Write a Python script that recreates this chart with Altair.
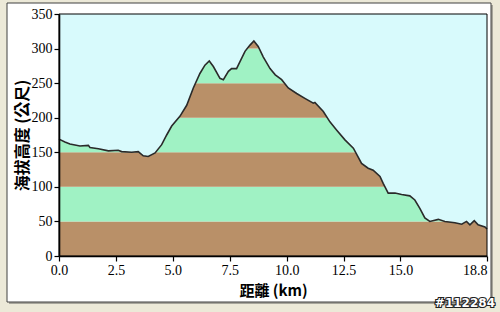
import altair as alt
import pandas as pd

km = [0.0, 0.26, 0.48, 0.92, 1.29, 1.36, 1.73, 2.17, 2.6, 2.75, 3.19, 3.48, 3.7, 3.92,
      4.22, 4.51, 4.73, 4.95, 5.31, 5.61, 5.9, 6.19, 6.41, 6.6, 6.78, 7.07, 7.22, 7.44,
      7.58, 7.8, 7.95, 8.17, 8.39, 8.56, 8.75, 8.97, 9.27, 9.5, 9.78, 10.07, 10.44, 10.8,
      11.17, 11.24, 11.61, 11.9, 12.2, 12.56, 12.93, 13.29, 13.58, 13.8, 14.1, 14.24,
      14.46, 14.76, 15.05, 15.41, 15.63, 15.85, 16.07, 16.29, 16.66, 16.95, 17.39, 17.69,
      17.9, 18.05, 18.24, 18.41, 18.71, 18.8]
elev = [169, 165, 162, 159, 160, 157, 155, 152, 153, 151, 150, 151, 145, 144,
        149, 161, 175, 188, 202, 218, 243, 264, 276, 282, 274, 257, 255, 267,
        271, 271, 281, 296, 305, 311, 303, 288, 271, 262, 255, 243, 235, 228,
        221, 222, 209, 194, 182, 168, 156, 134, 127, 124, 115, 105,
        91, 91, 89, 87, 81, 69, 55, 50, 53, 50, 48, 46,
        50, 45, 51, 45, 42, 39]

band_lo = [0, 50, 100, 150, 200, 250, 300]
band_hi = [50, 100, 150, 200, 250, 300, 350]
band_fill = ["#B99068", "#A0F2C4", "#B99068", "#A0F2C4", "#B99068", "#A0F2C4", "#B99068"]

x_ticks = [0, 2.5, 5, 7.5, 10, 12.5, 15, 18.8]
y_ticks = [0, 50, 100, 150, 200, 250, 300, 350]

SKY = "#D8FAFC"
BEIGE = "#ECE9D8"
W, H = 428, 242

profile = pd.DataFrame({"km": km, "elev": elev})
bands = pd.DataFrame({"lo": band_lo, "hi": band_hi, "fill": band_fill})
one = alt.Data(values=[{"k": 0}])

xs = alt.Scale(domain=[0, 18.8], nice=False, zero=False)
ys = alt.Scale(domain=[0, 350], nice=False)

axis_common = dict(
    grid=False, domainColor="black", domainWidth=1.6, tickColor="black",
    tickSize=5, tickWidth=1.2, labelFont="Liberation Serif", labelFontSize=14,
    labelColor="black", labelPadding=2, titleFont="Noto Sans CJK TC",
    titleFontWeight="bold", titleColor="black", zindex=2,
)
xaxis = alt.Axis(values=x_ticks, format=".1f", title="距離 (km)", titlePadding=6,
                 titleFontSize=15,
                 labelAlign={"expr": "datum.value >= 18.8 ? 'right' : 'center'"},
                 **axis_common)
yaxis = alt.Axis(values=y_ticks, title="海拔高度 (公尺)", titlePadding=1,
                 titleFontSize=16, **axis_common)


def strip(x1, x2, y1, y2, color):
    return alt.Chart(one).mark_rect(fill=color).encode(
        x=alt.value(x1), x2=alt.value(x2), y=alt.value(y1), y2=alt.value(y2))


frame_parts = [
    strip(-59, -52, -14, 298, BEIGE),
    strip(-59, 441, -14, -11, BEIGE),
    strip(432, 441, -14, 298, BEIGE),
    strip(-59, 441, 288, 298, BEIGE),
    strip(432, 434, -9, 290, "#A8A69C"),
    strip(-50, 434, 288, 290, "#A8A69C"),
]
panel_edge = alt.Chart(one).mark_rect(fillOpacity=0, stroke="#404040", strokeWidth=1).encode(
    x=alt.value(-52), x2=alt.value(432), y=alt.value(-11), y2=alt.value(288))

band_layer = alt.Chart(bands).mark_rect().encode(
    x=alt.value(0), x2=alt.value(W),
    y=alt.Y("lo:Q", scale=ys, axis=yaxis),
    y2="hi:Q",
    color=alt.Color("fill:N", scale=None),
)

sky = alt.Chart(profile).mark_area(color=SKY, opacity=1).encode(
    x=alt.X("km:Q", scale=xs, axis=xaxis),
    y=alt.Y("elev:Q", scale=ys, axis=yaxis),
    y2=alt.datum(350),
)

line = alt.Chart(profile).mark_line(color="#2A2A2A", strokeWidth=1.6).encode(
    x=alt.X("km:Q", scale=xs, axis=xaxis),
    y=alt.Y("elev:Q", scale=ys, axis=yaxis),
)

frame = alt.Chart(one).mark_rect(fillOpacity=0, stroke="black", strokeWidth=1).encode(
    x=alt.value(0), x2=alt.value(W), y=alt.value(0), y2=alt.value(H))

wm_text = "#112284"
wm_back = alt.Chart(one).mark_text(
    text=wm_text, align="right", baseline="middle", font="DejaVu Sans",
    fontWeight="bold", fontSize=12, fill="white", stroke="#222222", strokeWidth=2.2
).encode(x=alt.value(436), y=alt.value(289))
wm_front = alt.Chart(one).mark_text(
    text=wm_text, align="right", baseline="middle", font="DejaVu Sans",
    fontWeight="bold", fontSize=12, fill="white"
).encode(x=alt.value(436), y=alt.value(289))

chart = alt.layer(
    band_layer, sky, line, frame, *frame_parts, panel_edge, wm_back, wm_front
).properties(
    width=W, height=H,
    autosize=alt.AutoSizeParams(type="none"),
    padding={"left": 59, "top": 14, "right": 13, "bottom": 56},
    background="white",
).configure_view(
    stroke=None
)

chart.save("out.html", embed_options={"renderer": "svg", "actions": False})
